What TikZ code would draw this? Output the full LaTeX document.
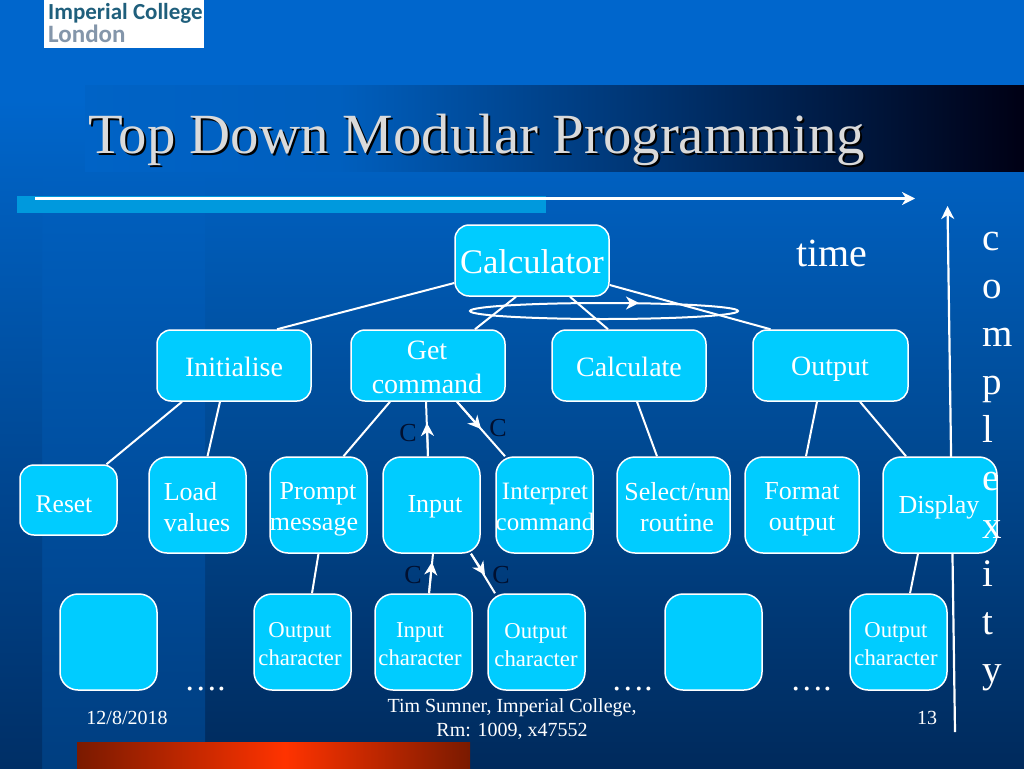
\documentclass[tikz,border=0pt]{standalone}
\usepackage{fontspec}
\setmainfont{Liberation Serif}
\newfontfamily\logofont{Carlito}
\usetikzlibrary{arrows.meta,calc,shapes.geometric}
\definecolor{boxfill}{HTML}{00CCFF}
\definecolor{bgtop}{HTML}{0066CC}
\definecolor{bgmid}{HTML}{004A94}
\definecolor{bgbot}{HTML}{002A5C}
\definecolor{bandtop}{HTML}{0060C0}
\definecolor{bandbot}{HTML}{003E80}
\definecolor{leftbot}{HTML}{002F66}
\definecolor{stripc}{HTML}{0099DD}
\definecolor{titlegrey}{HTML}{DADADA}
\definecolor{logoteal}{HTML}{1F5F7C}
\definecolor{logogrey}{HTML}{8496AA}
\definecolor{redmid}{HTML}{FF3300}
\definecolor{redend}{HTML}{7A1A00}
\definecolor{clab}{HTML}{001030}
\tikzset{
  x=1pt,y=-1pt,
  box/.style={draw=white,line width=1.5pt,fill=boxfill,rounded corners=#1,inner sep=0pt,text=white,align=center},
  box/.default=14pt,
  conn/.style={draw=white,line width=2pt},
  tiparrow/.style={draw=white,line width=2pt,-{Stealth[length=13pt,width=13pt,inset=4pt]}},
  clabel/.style={text=clab,font=\fontsize{26}{26}\selectfont,inner sep=0pt},
  foot/.style={text=white,font=\fontsize{20}{24.5}\selectfont,align=center,inner sep=0pt},
  dots/.style={text=white,font=\fontsize{33}{33}\selectfont,inner sep=0pt},
  letter/.style={text=white,font=\fontsize{39}{39}\selectfont,inner sep=0pt,anchor=base west},
  lab/.style={text=white,inner sep=0pt,align=center},
}
\newcommand{\mybox}[6][14pt]{% corner radius; name, x0, y0, x1, y1
  \node[box=#1,minimum width=#5pt-#3pt,minimum height=#6pt-#4pt]
    (#2) at ({(#3+#5)/2},{(#4+#6)/2}) {};}
\begin{document}
\begin{tikzpicture}
\useasboundingbox (0,0) rectangle (1024,768);
% background
\fill[bgtop] (0,0) rectangle (1024,101);
\shade[top color=bgtop,bottom color=bgbot,middle color=bgmid] (0,100) rectangle (1024,768);
\shade[top color=bandtop,bottom color=bandbot] (42,172) rectangle (205,768);
\shade[top color=bandtop,bottom color=leftbot] (0,172) rectangle (42,768);
% title band
\shade[left color=bgtop!97!black,right color=bgtop!93!black] (85,85) rectangle (340,171);
\shade[left color=bgtop!93!black,right color=black!92!blue] (340,85) rectangle (1024,171);
% strips
\fill[stripc] (17,196) rectangle (546,213);
\shade[left color=redend,right color=redmid] (77,742) rectangle (285,768);
\shade[left color=redmid,right color=redend] (285,742) rectangle (470,768);
% logo
\fill[white] (44,0) rectangle (204,48);
\node[anchor=base west,inner sep=0pt,text=logoteal,font=\logofont\bfseries\fontsize{23}{23}\selectfont] (logoa) at (48,20) {Imperial College};
\node[anchor=base west,inner sep=0pt,text=logogrey,font=\logofont\bfseries\fontsize{25}{25}\selectfont] (logob) at (48,43) {London};
% title
\node[anchor=base west,inner sep=0pt,text=black,font=\fontsize{56.8}{56.8}\selectfont] (titleshadow) at (90,155) {Top Down Modular Programming};
\node[anchor=base west,inner sep=0pt,text=titlegrey,font=\fontsize{56.8}{56.8}\selectfont] (title) at (88,153) {Top Down Modular Programming};
% time arrow
\coordinate (ta) at (35,198.5);
\coordinate (tb) at (915,198.5);
\draw[tiparrow,line width=2.2pt] (ta) -- (tb);
\coordinate (ca) at (955,732);
\coordinate (cb) at (947.5,206);
\draw[tiparrow,line width=2.2pt] (ca) -- (cb);
% boxes
\mybox{calc}{455}{225}{609}{296}
\mybox{init}{157}{330}{311}{401}
\mybox{getc}{351}{330}{505}{401}
\mybox{calcu}{552}{330}{706}{401}
\mybox{outp}{753}{330}{908}{401}
\mybox{reset}{20}{465}{117}{535}
\mybox[18pt]{load}{149}{457}{246}{553}
\mybox[18pt]{prompt}{270}{457}{367}{553}
\mybox[18pt]{input}{383}{457}{480}{553}
\mybox[18pt]{interp}{496}{457}{593}{553}
\mybox[18pt]{select}{617}{457}{730}{553}
\mybox[18pt]{format}{745}{457}{859}{553}
\mybox[18pt]{display}{883}{457}{997}{553}
\mybox[18pt]{blanka}{60}{594}{157}{690}
\mybox[18pt]{outa}{254}{594}{351}{690}
\mybox[18pt]{inpa}{375}{594}{472}{690}
\mybox[18pt]{outb}{488}{594}{585}{690}
\mybox[18pt]{blankb}{665}{594}{762}{690}
\mybox[18pt]{outc}{850}{594}{947}{690}
% connectors
\draw[conn] ([yshift=-22.5pt]calc.west) -- ([xshift=43pt]init.north);
\draw[conn] ([xshift=-16pt]calc.south) -- ([xshift=47pt]getc.north);
\draw[conn] ([xshift=38pt]calc.south) -- ([xshift=-21pt]calcu.north);
\draw[conn] ([yshift=-24.5pt]calc.east) -- ([xshift=-60pt]outp.north);
\draw[conn] ([xshift=-52pt]init.south) -- ([xshift=38pt]reset.north);
\draw[conn] ([xshift=-14pt]init.south) -- ([xshift=10pt]load.north);
\draw[conn] ([xshift=-38pt]getc.south) -- ([xshift=25pt]prompt.north);
\coordinate (m1) at (427,423);
\draw[conn] ([xshift=-2pt]getc.south) -- ([xshift=-3.5pt]input.north);
\draw[tiparrow] ([xshift=-3.5pt]input.north) -- (m1);
\coordinate (m2) at (481,429);
\draw[conn] ([xshift=29pt]getc.south) -- ([xshift=-39.5pt]interp.north);
\draw[tiparrow] ([xshift=29pt]getc.south) -- (m2);
\draw[conn] ([xshift=8pt]calcu.south) -- ([xshift=-16.5pt]select.north);
\draw[conn] ([xshift=-13.5pt]outp.south) -- ([xshift=4pt]format.north);
\draw[conn] ([xshift=29.5pt]outp.south) -- ([xshift=-34pt]display.north);
\draw[conn] ([xshift=0pt]prompt.south) -- ([xshift=9.5pt]outa.north);
\coordinate (m3) at (432,562);
\draw[conn] ([xshift=1.5pt]input.south) -- ([xshift=5.5pt]inpa.north);
\draw[tiparrow] ([xshift=5.5pt]inpa.north) -- (m3);
\coordinate (m4) at (485,575);
\draw[conn] ([xshift=39.5pt]input.south) -- ([xshift=-41.5pt]outb.north);
\draw[tiparrow] ([xshift=39.5pt]input.south) -- (m4);
\draw[conn] ([xshift=-22pt]display.south) -- ([xshift=11.5pt]outc.north);
% ellipse
\node[draw=white,line width=2pt,ellipse,minimum width=268pt,minimum height=16pt,inner sep=0pt] (loopring) at (604,311) {};
\coordinate (ra) at (615,303);
\coordinate (rb) at (639,303);
\draw[tiparrow] (ra) -- (rb);
% box labels
\node[lab,font=\fontsize{34.5}{34.5}\selectfont] (lcalc) at (532,262) {Calculator};
\node[lab,font=\fontsize{28}{30}\selectfont] (linit) at (234,367) {Initialise};
\node[lab,font=\fontsize{28}{34}\selectfont] (lget) at (427,367) {Get\\command};
\node[lab,font=\fontsize{28}{30}\selectfont] (lcalcu) at (629,367) {Calculate};
\node[lab,font=\fontsize{28}{30}\selectfont] (loutp) at (830,369) {Output};
\node[lab,font=\fontsize{25.5}{30}\selectfont] (lreset) at (64,504) {Reset};
\node[lab,font=\fontsize{26}{31}\selectfont,align=left] (lload) at (197,507) {Load\\ values};
\node[lab,font=\fontsize{26}{31}\selectfont] (lprompt) at (314,509) {\hspace*{8pt}Prompt\\message};
\node[lab,font=\fontsize{26}{31}\selectfont] (linput) at (435,507) {Input};
\node[lab,font=\fontsize{25}{31}\selectfont] (linterp) at (545,507) {Interpret\\command};
\node[lab,font=\fontsize{26}{31}\selectfont] (lselect) at (677,507) {Select/run\\routine};
\node[lab,font=\fontsize{26}{31}\selectfont] (lformat) at (802,509) {Format\\output};
\node[lab,font=\fontsize{26}{31}\selectfont] (ldisplay) at (939,507) {Display};
\node[lab,font=\fontsize{22.7}{27.5}\selectfont] (louta) at (300,644) {Output\\character};
\node[lab,font=\fontsize{22.7}{27.5}\selectfont] (linpa) at (420,644) {Input\\character};
\node[lab,font=\fontsize{22.7}{27.5}\selectfont] (loutb) at (536,645) {Output\\character};
\node[lab,font=\fontsize{22.7}{27.5}\selectfont] (loutc) at (896,644) {Output\\character};
% C labels
\node[clabel] (c1) at (408,433) {C};
\node[clabel] (c2) at (498,428) {C};
\node[clabel] (c3) at (413,575) {C};
\node[clabel] (c4) at (501,575) {C};
% dots
\node[dots,anchor=base] (d1) at (205,690) {….};
\node[dots,anchor=base] (d2) at (632,690) {….};
\node[dots,anchor=base] (d3) at (811,690) {….};
% time and complexity
\node[text=white,font=\fontsize{40}{40}\selectfont,inner sep=0pt,anchor=base] (ltime) at (832,266) {time};
\foreach \t/\yy [count=\i] in {c/250,o/298,m/346,p/394,l/442,e/490,x/538,i/586,t/634,y/682}
  \node[letter] (let\i) at (982,\yy) {\t};
% footer
\node[foot] (fdate) at (127,718) {12/8/2018};
\node[foot] (fmid) at (512,719) {Tim Sumner, Imperial College,\\Rm: 1009, x47552};
\node[foot] (fnum) at (927,718) {13};
\end{tikzpicture}
\end{document}
